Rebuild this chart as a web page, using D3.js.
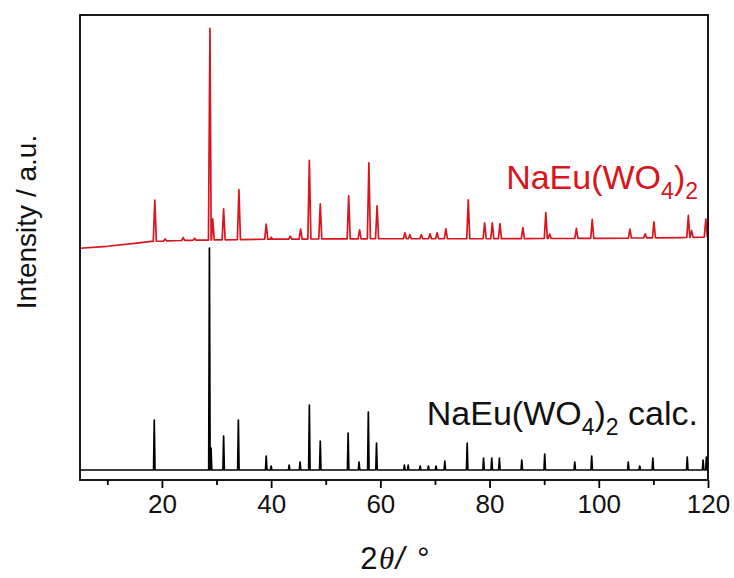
<!DOCTYPE html>
<html>
<head>
<meta charset="utf-8">
<script src="https://cdn.jsdelivr.net/npm/d3@7/dist/d3.min.js"></script>
<style>
  html, body { margin: 0; padding: 0; background: #fff; }
  svg text { font-family: "Liberation Sans", Arial, sans-serif; }
</style>
</head>
<body>
<svg id="chart" width="734" height="578"></svg>
<script>
// 2θ range and axis ticks
const xDomain = [5, 120];
const majorTicks = [20, 40, 60, 80, 100, 120];
const minorTicks = [10, 30, 50, 70, 90, 110];

// Measured pattern: background (2θ, intensity) and peaks (2θ, height above background)
const measBgPos = [5, 10, 15, 18, 25, 40, 60, 80, 100, 115, 120];
const measBgVal = [999, 1008, 1021, 1030, 1035, 1040, 1042, 1042, 1044, 1047, 1050];
const measPeakPos = [18.7, 20.6, 23.9, 26.0, 28.8, 29.3, 31.3, 34.1, 39.1, 40.0, 43.5, 45.4,
  47.0, 49.0, 54.2, 56.2, 57.9, 59.4, 64.5, 65.4, 67.5, 69.1, 70.4, 72.0, 76.1, 79.1,
  80.5, 81.9, 86.1, 90.3, 91.0, 95.9, 98.8, 105.7, 108.5, 110.1, 116.4, 117.0, 119.6];
const measPeakHeight = [185, 9, 13, 9, 954, 95, 140, 225, 68, 9, 13, 45,
  355, 158, 194, 40, 342, 148, 27, 18, 18, 22, 27, 45, 175, 72,
  72, 68, 50, 117, 20, 45, 85, 40, 18, 72, 99, 30, 81];

// Calculated pattern: flat baseline and reflections (2θ, intensity)
const calcBase = 0;
const calcPeakPos = [18.6, 28.7, 29.0, 31.3, 34.0, 39.1, 40.0, 43.3, 45.3, 47.0, 49.0, 54.1,
  56.1, 57.8, 59.3, 64.4, 65.1, 67.3, 68.8, 70.2, 71.8, 75.9, 78.9, 80.4, 81.8, 85.9,
  90.1, 95.6, 98.7, 105.4, 107.5, 109.9, 116.2, 119.1, 119.7];
const calcPeakHeight = [225, 1000, 99, 153, 225, 63, 18, 22, 36, 292, 130, 166,
  36, 261, 121, 22, 22, 18, 18, 18, 40, 121, 54, 54, 54, 45,
  72, 36, 63, 36, 18, 54, 58, 45, 58];

const yDomain = [-45, 2050];

const svg = d3.select("#chart");
const plot = { left: 80, right: 708, top: 15, bottom: 480 };

const x = d3.scaleLinear().domain(xDomain).range([plot.left, plot.right]);
const y = d3.scaleLinear().domain(yDomain).range([plot.bottom, plot.top]);
const background = d3.scaleLinear().domain(measBgPos).range(measBgVal);

// Builds a profile: baseline vertices plus a narrow spike for each reflection
function profile(basePos, baseFn, pos, height, halfWidth) {
  const pts = basePos.map(p => [p, baseFn(p)]);
  pos.forEach((p, i) => {
    pts.push([p - halfWidth, baseFn(p - halfWidth)]);
    pts.push([p, baseFn(p) + height[i]]);
    pts.push([p + halfWidth, baseFn(p + halfWidth)]);
  });
  pts.sort((a, b) => a[0] - b[0]);
  return pts;
}

const line = d3.line().x(d => x(d[0])).y(d => y(d[1]));

svg.append("defs").append("clipPath").attr("id", "clip")
  .append("rect")
  .attr("x", plot.left).attr("y", plot.top)
  .attr("width", plot.right - plot.left).attr("height", plot.bottom - plot.top);

const measured = profile(measBgPos, background, measPeakPos, measPeakHeight, 0.28);
const calculated = profile(xDomain, () => calcBase, calcPeakPos, calcPeakHeight, 0.13);

svg.append("path")
  .attr("clip-path", "url(#clip)")
  .attr("d", line(calculated))
  .attr("fill", "none")
  .attr("stroke", "#000")
  .attr("stroke-width", 1.7)
  .attr("stroke-linejoin", "round");

svg.append("path")
  .attr("clip-path", "url(#clip)")
  .attr("d", line(measured))
  .attr("fill", "none")
  .attr("stroke", "#d9141c")
  .attr("stroke-width", 1.7)
  .attr("stroke-linejoin", "round");

// Frame
svg.append("rect")
  .attr("x", plot.left).attr("y", plot.top)
  .attr("width", plot.right - plot.left).attr("height", plot.bottom - plot.top)
  .attr("fill", "none").attr("stroke", "#000").attr("stroke-width", 1.8);

// Bottom axis: major ticks with labels, minor ticks without
const xAxis = d3.axisBottom(x).tickValues(majorTicks).tickSize(8).tickSizeOuter(0).tickPadding(7);
const gx = svg.append("g").attr("transform", `translate(0,${plot.bottom})`).call(xAxis);
gx.select(".domain").remove();
gx.selectAll(".tick line").attr("stroke-width", 1.8);
gx.selectAll(".tick text").attr("font-size", 26).attr("fill", "#111")
  .style("font-family", "'Liberation Sans', Arial, sans-serif");

const xMinor = d3.axisBottom(x).tickValues(minorTicks).tickSize(5).tickFormat("");
const gm = svg.append("g").attr("transform", `translate(0,${plot.bottom})`).call(xMinor);
gm.select(".domain").remove();
gm.selectAll(".tick line").attr("stroke-width", 1.8);

// Axis titles
const xt = svg.append("text")
  .attr("x", 395)
  .attr("y", 569)
  .attr("text-anchor", "middle")
  .attr("font-size", 31)
  .attr("letter-spacing", 1.5)
  .attr("fill", "#111");
xt.append("tspan").text("2");
xt.append("tspan").attr("font-style", "italic").attr("font-family", "'Liberation Serif', serif").text("θ");
xt.append("tspan").attr("font-style", "italic").text("/ °");

svg.append("text")
  .attr("transform", "translate(36,222) rotate(-90)")
  .attr("text-anchor", "middle")
  .attr("font-size", 28)
  .attr("fill", "#111")
  .text("Intensity / a.u.");

// Series labels with subscripts
function formulaLabel(xEnd, yBase, color, suffix) {
  const t = svg.append("text")
    .attr("x", xEnd).attr("y", yBase)
    .attr("text-anchor", "end")
    .attr("font-size", 34)
    .attr("fill", color);
  t.append("tspan").text("NaEu(WO");
  t.append("tspan").attr("font-size", 23).attr("dy", 10).text("4");
  t.append("tspan").attr("dy", -10).text(")");
  t.append("tspan").attr("font-size", 23).attr("dy", 10).text("2");
  if (suffix) t.append("tspan").attr("dy", -10).text(suffix);
}
formulaLabel(698, 189, "#d9141c", "");
formulaLabel(698, 425, "#111", " calc.");
</script>
</body>
</html>
